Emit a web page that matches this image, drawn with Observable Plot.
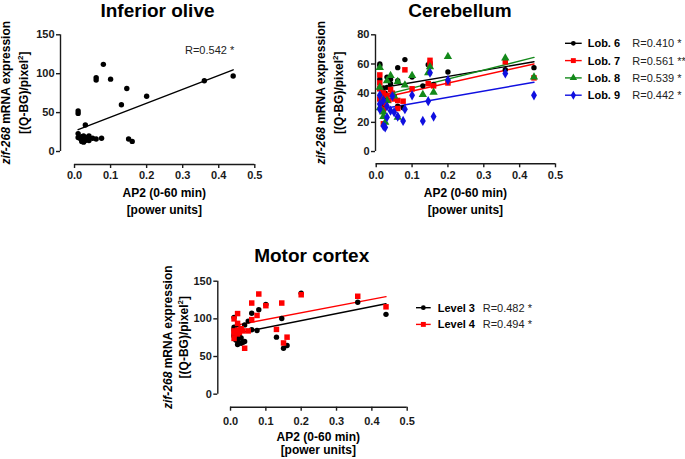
<!DOCTYPE html>
<html><head><meta charset="utf-8">
<script src="https://cdn.jsdelivr.net/npm/d3@7"></script>
<script src="https://cdn.jsdelivr.net/npm/@observablehq/plot@0.6"></script>
<style>
body{margin:0;background:#fff;}
#chart{position:relative;width:685px;height:459px;background:#fff;}
</style></head><body><div id="chart"></div>
<script>
// ---------- DATA ----------
const xTicks = [0, 0.1, 0.2, 0.3, 0.4, 0.5];

// Inferior olive
const ioX = [0.01,0.01,0.01,0.01,0.015,0.02,0.02,0.02,0.025,0.025,0.025,0.03,0.03,0.03,0.035,0.04,0.04,0.05,0.06,0.06,0.06,0.075,0.08,0.1,0.13,0.145,0.15,0.16,0.2,0.36,0.44];
const ioY = [52,49,23,18,17,19,15,13,17,20,12,34,16,14,18,20,14,17,95,92,16,17,112,93,60,81,16,13,71,91,97];
const ioFitX = [0.01, 0.44];
const ioFitY = [28, 105];
const ioYTicks = [0, 50, 100, 150];
const ioR = "R=0.542 *";

// Cerebellum
const cbNames = ["Lob. 6", "Lob. 7", "Lob. 8", "Lob. 9"];
const cbR = ["R=0.410 *", "R=0.561 **", "R=0.539 *", "R=0.442 *"];
const cbColors = ["#000000", "#ff0000", "#13891a", "#1010e0"];
const cbSymbols = ["circle", "square", "triangle", "diamond"];
const lob6X = [0.01,0.01,0.01,0.01,0.02,0.02,0.02,0.025,0.025,0.03,0.03,0.04,0.04,0.05,0.06,0.06,0.06,0.075,0.08,0.1,0.13,0.145,0.15,0.16,0.2,0.36,0.44];
const lob6Y = [60,59,49.5,43,43.5,36,32.5,40,31,44,51,49.5,46.5,38,57.5,48.5,31,30,63,51,45,59.5,60,46,54.5,56,57.5];
const lob7X = [0.01,0.01,0.01,0.01,0.02,0.02,0.02,0.025,0.03,0.035,0.04,0.045,0.05,0.06,0.06,0.075,0.08,0.1,0.145,0.15,0.15,0.16,0.2,0.36,0.44];
const lob7Y = [52.5,47,43,36,40,29,19,33,38.5,35,42.5,40,36,35,29.5,34.5,56,43,46.5,62.5,60,45,47,61.5,50.5];
const lob8X = [0.01,0.01,0.01,0.02,0.02,0.025,0.03,0.03,0.04,0.05,0.06,0.06,0.08,0.1,0.13,0.145,0.15,0.16,0.2,0.36,0.44];
const lob8Y = [57.5,44,30,27,24,20,48.5,35,52,38,48,23.5,45.5,52,39,54,58,40.5,65,64,51];
const lob9X = [0.01,0.01,0.01,0.02,0.025,0.02,0.03,0.03,0.04,0.045,0.05,0.06,0.075,0.08,0.1,0.13,0.145,0.15,0.16,0.2,0.36,0.44];
const lob9Y = [38.5,32.5,29,17.5,16.5,35,23.5,31,28,38,27,24,21,29,38.5,21,34.5,54,24,49,53.5,38.5];
const cbFitX = [0.01, 0.44];
const lob6FitY = [43.5, 61.5];
const lob7FitY = [36.5, 60];
const lob8FitY = [38, 64.5];
const lob9FitY = [29, 47.5];
const cbYTicks = [0, 20, 40, 60, 80];

// Motor cortex
const mcNames = ["Level 3", "Level 4"];
const mcR = ["R=0.482 *", "R=0.494 *"];
const mcColors = ["#000000", "#ff0000"];
const mcSymbols = ["circle", "square"];
const lev3X = [0.01,0.01,0.01,0.01,0.01,0.015,0.02,0.02,0.02,0.025,0.03,0.03,0.035,0.04,0.04,0.05,0.06,0.06,0.075,0.08,0.1,0.13,0.145,0.15,0.16,0.2,0.36,0.44];
const lev3Y = [102,89,85.5,79,77,72,92,71,66,76,74.5,67.7,69,92,70,97,107.5,85.5,84.5,112,119,75.7,100.5,61,64.7,134,122,106];
const lev4X = [0.01,0.01,0.01,0.01,0.02,0.02,0.02,0.02,0.025,0.03,0.035,0.04,0.05,0.06,0.06,0.075,0.08,0.1,0.13,0.145,0.15,0.16,0.2,0.36,0.44];
const lev4Y = [100,84,81,74,107,94,85,80,82,87,84,61,84,121,99,104.5,133,117.5,86,121,68,75.7,132,130,116];
const mcFitX = [0.01, 0.44];
const lev3FitY = [80, 120];
const lev4FitY = [91, 129.5];
const mcYTicks = [0, 50, 100, 150];

// ---------- DRAWING ----------
const FONT = '"Liberation Sans", Arial, Helvetica, sans-serif';
const INK = "#1a1a1a";
const zip = (xs, ys) => xs.map((x, i) => ({x, y: ys[i]}));
const chart = document.getElementById("chart");
const symMap = {circle: d3.symbolCircle, square: d3.symbolSquare, triangle: d3.symbolTriangle, diamond: d3.symbolDiamond};

function makePanel(cfg) {
  const marks = [
    Plot.ruleX([cfg.xDomain[0]], {y1: 0, y2: cfg.yTicks[cfg.yTicks.length - 1], stroke: INK, strokeWidth: 1.4}),
    Plot.ruleY([cfg.yDomain[0]], {x1: 0, x2: 0.5, stroke: INK, strokeWidth: 1.4}),
    Plot.axisY({ticks: cfg.yTicks, tickSize: 4, tickPadding: 2, label: null, tickFormat: d => String(d), stroke: INK, strokeWidth: 1.4, fill: INK}),
    Plot.axisX({ticks: xTicks, tickSize: 4, tickPadding: cfg.xTickPad, label: null, tickFormat: d => d.toFixed(1), stroke: INK, strokeWidth: 1.4, fill: INK})
  ];
  cfg.series.forEach(s => {
    marks.push(Plot.line(zip(cfg.fitX, s.fitY), {x: "x", y: "y", stroke: s.color, strokeWidth: 1.4}));
  });
  cfg.series.forEach(s => {
    marks.push(Plot.dot(zip(s.xs, s.ys), {x: "x", y: "y", symbol: s.symbol, fill: s.color, stroke: "none", r: s.r}));
  });
  const svg = Plot.plot({
    width: cfg.width, height: cfg.height,
    marginLeft: cfg.mL, marginRight: cfg.mR, marginTop: cfg.mT, marginBottom: cfg.mB,
    x: {domain: cfg.xDomain},
    y: {domain: cfg.yDomain},
    style: {position: "absolute", left: cfg.left + "px", top: cfg.top + "px", overflow: "visible",
            background: "transparent", fontFamily: FONT, fontSize: "11px", fontWeight: "bold", color: INK},
    marks
  });
  chart.appendChild(svg);
  const g = d3.select(svg);
  // title
  g.append("text").attr("x", cfg.titleX).attr("y", cfg.titleY).attr("text-anchor", "middle")
    .style("font-size", "19px").style("font-weight", "bold").attr("fill", "#000").text(cfg.title);
  // x label
  const xl = g.append("g").style("font-size", "12px").style("font-weight", "bold").attr("fill", "#000").attr("text-anchor", "middle");
  xl.append("text").attr("x", cfg.xLabelX).attr("y", cfg.xLabelY1).text("AP2 (0-60 min)");
  xl.append("text").attr("x", cfg.xLabelX).attr("y", cfg.xLabelY2).text("[power units]");
  // y label
  const yl = g.append("g").attr("transform", `rotate(-90)`).style("font-size", "12px").style("font-weight", "bold")
    .attr("fill", "#000").attr("text-anchor", "middle");
  const t1 = yl.append("text").attr("x", -cfg.yLabelY).attr("y", cfg.yLabelX1);
  t1.append("tspan").style("font-style", "italic").text("zif-268");
  t1.append("tspan").text(" mRNA expression");
  const t2 = yl.append("text").attr("x", -cfg.yLabelY).attr("y", cfg.yLabelX2);
  t2.append("tspan").text("[(Q-BG)/pixel");
  t2.append("tspan").attr("dy", "-5").style("font-size", "8px").text("2");
  t2.append("tspan").attr("dy", "5").text("]");
  // legend / annotation
  if (cfg.legend) {
    const L = cfg.legend;
    const lg = g.append("g").attr("text-anchor", "start");
    cfg.series.forEach((s, i) => {
      const y = L.y0 + i * L.dy;
      lg.append("line").attr("x1", L.lx1).attr("x2", L.lx2).attr("y1", y).attr("y2", y)
        .attr("stroke", s.color).attr("stroke-width", 1.4);
      lg.append("path").attr("transform", `translate(${(L.lx1 + L.lx2) / 2},${y})`)
        .attr("d", d3.symbol(symMap[s.symbol], Math.PI * s.r * s.r * 0.8)()).attr("fill", s.color);
      lg.append("text").attr("x", L.tx).attr("y", y + 4).style("font-size", "11px").style("font-weight", "bold")
        .attr("fill", "#000").text(s.name);
      lg.append("text").attr("x", L.rx).attr("y", y + 4).style("font-size", "11px").style("font-weight", "normal")
        .attr("fill", "#222").text(s.rText);
    });
  }
  if (cfg.note) {
    g.append("text").attr("x", cfg.note.x).attr("y", cfg.note.y).attr("text-anchor", "start").style("font-size", "11px")
      .style("font-weight", "normal").attr("fill", "#222").text(cfg.note.text);
  }
}

// Panel 1: Inferior olive
makePanel({
  left: 0, top: 0, width: 280, height: 230, mL: 60, mR: 25.7, mT: 34.3, mB: 66,
  xDomain: [-0.0389, 0.5], yDomain: [-16.7, 150], yTicks: ioYTicks, xTickPad: 3,
  fitX: ioFitX,
  series: [{xs: ioX, ys: ioY, fitY: ioFitY, color: "#000", symbol: "circle", r: 2.7}],
  title: "Inferior olive", titleX: 157.5, titleY: 17,
  xLabelX: 164.3, xLabelY1: 197, xLabelY2: 214,
  yLabelX1: 10, yLabelX2: 27.5, yLabelY: 92.7,
  note: {x: 185, y: 54, text: ioR}
});

// Panel 2: Cerebellum
const cbXs = [lob6X, lob7X, lob8X, lob9X], cbYs = [lob6Y, lob7Y, lob8Y, lob9Y], cbFits = [lob6FitY, lob7FitY, lob8FitY, lob9FitY];
makePanel({
  left: 315, top: 0, width: 370, height: 230, mL: 60, mR: 130, mT: 34.3, mB: 66.7,
  xDomain: [-0.002, 0.5], yDomain: [-8.4, 80], yTicks: cbYTicks, xTickPad: 3,
  fitX: cbFitX,
  series: cbNames.map((n, i) => ({name: n, rText: cbR[i], xs: cbXs[i], ys: cbYs[i], fitY: cbFits[i],
    color: cbColors[i], symbol: cbSymbols[i], r: i === 0 ? 2.7 : 3.1})),
  title: "Cerebellum", titleX: 145, titleY: 17,
  xLabelX: 150.4, xLabelY1: 197, xLabelY2: 214,
  yLabelX1: 10, yLabelX2: 27.5, yLabelY: 92.7,
  legend: {lx1: 250, lx2: 266.7, tx: 272.7, rx: 317.3, y0: 43.3, dy: 17.3}
});

// Panel 3: Motor cortex
const mcXs = [lev3X, lev4X], mcYs = [lev3Y, lev4Y], mcFits = [lev3FitY, lev4FitY];
makePanel({
  left: 150, top: 230, width: 390, height: 229, mL: 67.3, mR: 133.3, mT: 50.7, mB: 52.3,
  xDomain: [-0.036, 0.5], yDomain: [-17.3, 150], yTicks: mcYTicks, xTickPad: 6,
  fitX: mcFitX,
  series: mcNames.map((n, i) => ({name: n, rText: mcR[i], xs: mcXs[i], ys: mcYs[i], fitY: mcFits[i],
    color: mcColors[i], symbol: mcSymbols[i], r: i === 0 ? 2.7 : 3.1})),
  title: "Motor cortex", titleX: 161.7, titleY: 31.7,
  xLabelX: 168.3, xLabelY1: 211, xLabelY2: 224.3,
  yLabelX1: 21.5, yLabelX2: 38, yLabelY: 107.2,
  legend: {lx1: 266, lx2: 280.7, tx: 287.7, rx: 332.7, y0: 77.7, dy: 16.7}
});
</script>
</body></html>
